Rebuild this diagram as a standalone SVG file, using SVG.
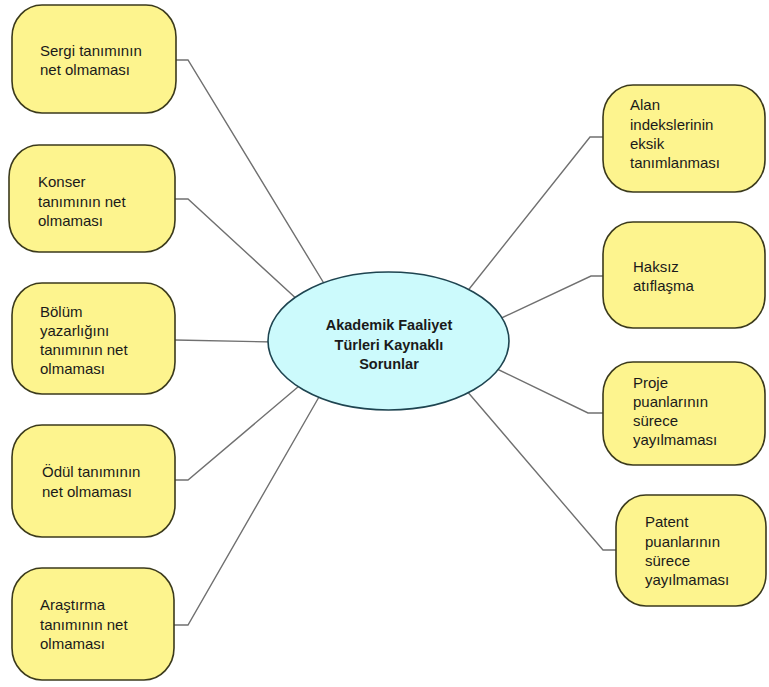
<svg xmlns="http://www.w3.org/2000/svg" width="769" height="687" viewBox="0 0 769 687">
<style>
.box{fill:#FDF48E;stroke:#3B3A1C;stroke-width:1.6}
.hub{fill:#CCFAFC;stroke:#1E4450;stroke-width:1.6}
.t{font-family:"Liberation Sans",Arial,sans-serif;font-size:15px;fill:#1A1A1A}
.h{font-family:"Liberation Sans",Arial,sans-serif;font-size:14.5px;font-weight:bold;fill:#1A1A1A;text-anchor:middle}
.c{fill:none;stroke:#707070;stroke-width:1.4}
</style>
<rect width="769" height="687" fill="#FFFFFF"/>
<g id="connectors">
<polyline class="c" points="176,60 188,60 328,290"/>
<polyline class="c" points="175,199 188,199 300,302"/>
<polyline class="c" points="175,340 275,342"/>
<polyline class="c" points="175,480 188,480 305,381"/>
<polyline class="c" points="174,625 188,625 323,390"/>
<polyline class="c" points="603,137 590,137 462,298"/>
<polyline class="c" points="603,276 591,276 495,321"/>
<polyline class="c" points="603,413 588,413 495,368"/>
<polyline class="c" points="616,550 603,550 466,390"/>
</g>
<g id="center">
<ellipse class="hub" cx="388.5" cy="341" rx="120.5" ry="69"/>
<text class="h" x="389" y="330">Akademik Faaliyet</text>
<text class="h" x="389" y="350">Türleri Kaynaklı</text>
<text class="h" x="389" y="369">Sorunlar</text>
</g>
<g id="sergi">
<rect class="box" x="12" y="5" width="164" height="108" rx="30" ry="32"/>
<text class="t" x="40" y="56">Sergi tanımının</text>
<text class="t" x="40" y="75">net olmaması</text>
</g>
<g id="konser">
<rect class="box" x="9" y="145" width="166" height="107" rx="30" ry="32"/>
<text class="t" x="38" y="187">Konser</text>
<text class="t" x="38" y="207">tanımının net</text>
<text class="t" x="38" y="226">olmaması</text>
</g>
<g id="bolum">
<rect class="box" x="12" y="283" width="163" height="111" rx="30" ry="32"/>
<text class="t" x="40" y="317">Bölüm</text>
<text class="t" x="40" y="336">yazarlığını</text>
<text class="t" x="40" y="355">tanımının net</text>
<text class="t" x="40" y="374">olmaması</text>
</g>
<g id="odul">
<rect class="box" x="12" y="425" width="163" height="112" rx="30" ry="32"/>
<text class="t" x="42" y="477">Ödül tanımının</text>
<text class="t" x="42" y="497">net olmaması</text>
</g>
<g id="arastirma">
<rect class="box" x="12" y="568" width="162" height="112" rx="30" ry="32"/>
<text class="t" x="40" y="610">Araştırma</text>
<text class="t" x="40" y="630">tanımının net</text>
<text class="t" x="40" y="649">olmaması</text>
</g>
<g id="alan">
<rect class="box" x="603" y="85" width="162" height="107" rx="30" ry="32"/>
<text class="t" x="630" y="110">Alan</text>
<text class="t" x="630" y="130">indekslerinin</text>
<text class="t" x="630" y="149">eksik</text>
<text class="t" x="630" y="168">tanımlanması</text>
</g>
<g id="haksiz">
<rect class="box" x="603" y="222" width="162" height="106" rx="30" ry="32"/>
<text class="t" x="633" y="272">Haksız</text>
<text class="t" x="633" y="291">atıflaşma</text>
</g>
<g id="proje">
<rect class="box" x="603" y="362" width="162" height="103" rx="30" ry="32"/>
<text class="t" x="633" y="388">Proje</text>
<text class="t" x="633" y="407">puanlarının</text>
<text class="t" x="633" y="426">sürece</text>
<text class="t" x="633" y="445">yayılmaması</text>
</g>
<g id="patent">
<rect class="box" x="616" y="495" width="150" height="111" rx="30" ry="32"/>
<text class="t" x="645" y="527">Patent</text>
<text class="t" x="645" y="547">puanlarının</text>
<text class="t" x="645" y="566">sürece</text>
<text class="t" x="645" y="585">yayılmaması</text>
</g>
</svg>
